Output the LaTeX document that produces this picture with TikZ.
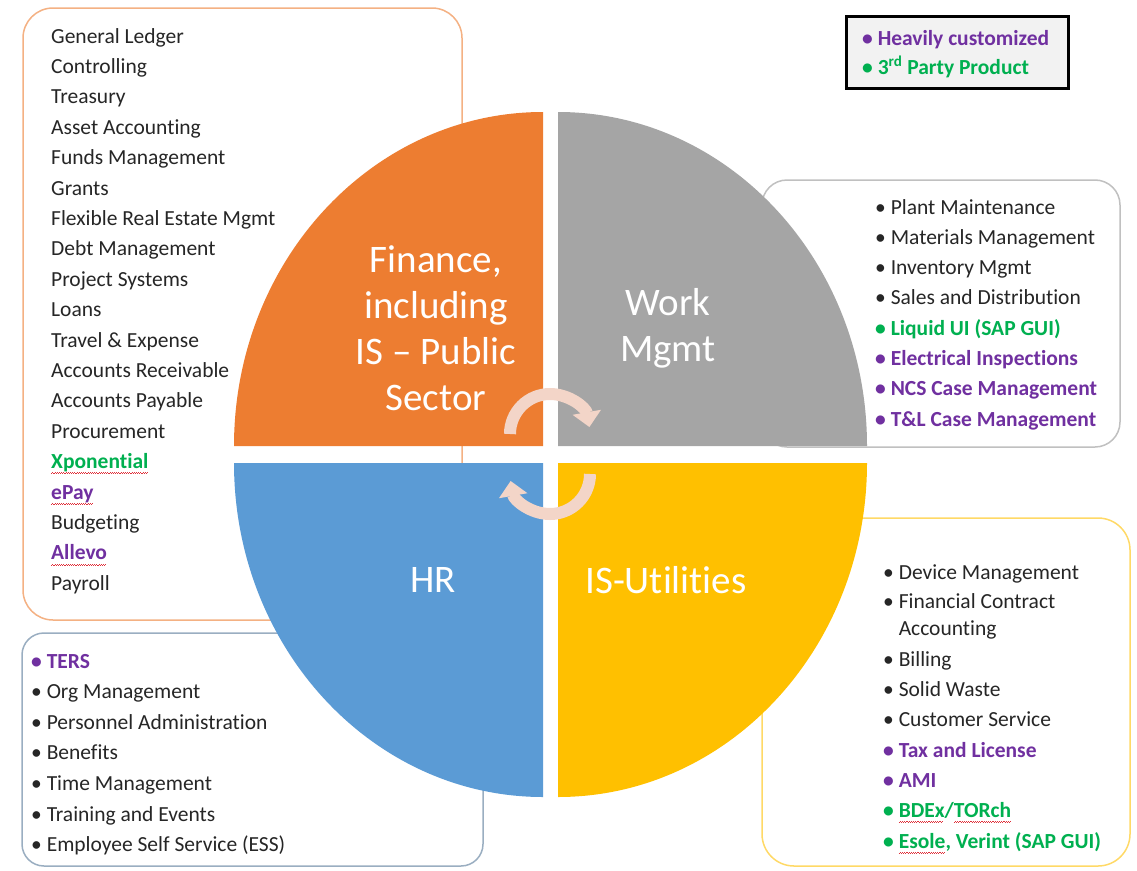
\documentclass[tikz,border=0pt]{standalone}
\usepackage{fontspec}
\setmainfont[Ligatures=NoCommon]{Carlito}
\usepackage{tikz}
\usetikzlibrary{arrows.meta}
\definecolor{finorange}{HTML}{ED7D31}
\definecolor{wmgray}{HTML}{A5A5A5}
\definecolor{hrblue}{HTML}{5B9BD5}
\definecolor{utilyellow}{HTML}{FFC000}
\definecolor{custpurple}{HTML}{7030A0}
\definecolor{thirdgreen}{HTML}{00B050}
\definecolor{textdark}{HTML}{262626}
\definecolor{cyclepeach}{HTML}{F3D5C8}
\definecolor{spellred}{HTML}{E0303A}
\newcommand{\itemfont}{\fontsize{21.5}{26}\selectfont}
\newlength{\spellwd}
\newcommand{\spellmark}[1]{\settowidth{\spellwd}{#1}\rlap{\textcolor{spellred}{\leaders\hbox{\rule[-5.6pt]{1.1pt}{0.9pt}\rule[-4.7pt]{1.1pt}{0.9pt}}\hskip\spellwd}}#1}

\begin{document}
\begin{tikzpicture}[
    x=1pt, y=-1pt,
    listbox/.style={draw, line width=1.5pt, fill=white},
    item/.style={anchor=base west, inner sep=0pt, font=\itemfont, text=textdark},
    stditem/.style={},
    heavycust/.style={text=custpurple, font=\itemfont\bfseries},
    thirdparty/.style={text=thirdgreen, font=\itemfont\bfseries},
    bigtitle/.style={text=white, align=center, font=\fontsize{39}{46}\selectfont},
    cyclearrow/.style={draw=cyclepeach, line width=12pt, -{Triangle[width=28pt, length=15pt]}}
]
\useasboundingbox (0,0) rectangle (1137,870);

% Boxes behind the circle
\draw[listbox, draw=finorange!60, rounded corners=30pt] (23,8) rectangle (462,620);
\draw[listbox, draw=hrblue!45!gray!70, rounded corners=22pt] (22,633) rectangle (483,866);
\draw[listbox, draw=wmgray!70, rounded corners=25pt] (762,180) rectangle (1120,447);
\draw[listbox, draw=utilyellow!60, rounded corners=32pt] (762,518) rectangle (1130,866);
\draw[fill=black!5, line width=3pt] (846,16) rectangle (1068,88);

% Quadrants
\fill[finorange] (543,446) -- (234,446) arc[start angle=180, end angle=90, x radius=309pt, y radius=334pt] -- cycle;
\fill[wmgray] (558,446) -- (558,112) arc[start angle=90, end angle=0, x radius=309pt, y radius=334pt] -- cycle;
\fill[hrblue] (543,463) -- (543,797) arc[start angle=270, end angle=180, x radius=309pt, y radius=334pt] -- cycle;
\fill[utilyellow] (558,463) -- (867,463) arc[start angle=0, end angle=-90, x radius=309pt, y radius=334pt] -- cycle;

% Cycle arrows
\draw[cyclearrow] (510,434) arc[start angle=180, end angle=10, radius=40pt];
\draw[cyclearrow] (590,474) arc[start angle=0, end angle=-170, radius=40pt];

% Quadrant titles
\node[bigtitle] (fintitle) at (436,328) {Finance,\\including\\IS -- Public\\Sector};
\node[bigtitle] (wmtitle) at (668,328) {Work\\Mgmt};
\node[bigtitle] (hrtitle) at (433,580) {HR};
\node[bigtitle] (utiltitle) at (666,580) {IS-Utilities};

% Legend
\node[item, heavycust] (legcust) at (862,45) {• Heavily customized};
\node[item, thirdparty] (legthird) at (862,74) {• 3\textsuperscript{rd} Party Product};

% Finance list
\foreach \txt/\sty [count=\i] in {General Ledger/stditem, Controlling/stditem, Treasury/stditem,
    Asset Accounting/stditem, Funds Management/stditem, Grants/stditem,
    Flexible Real Estate Mgmt/stditem, Debt Management/stditem, Project Systems/stditem,
    Loans/stditem, Travel \& Expense/stditem, Accounts Receivable/stditem,
    Accounts Payable/stditem, Procurement/stditem, \spellmark{Xponential}/thirdparty,
    \spellmark{ePay}/heavycust, Budgeting/stditem, \spellmark{Allevo}/heavycust, Payroll/stditem}
  \node[item, \sty] (fin\i) at (51, {43+30.4*(\i-1)}) {\txt};

% Work Mgmt list
\foreach \txt/\sty [count=\i] in {• Plant Maintenance/stditem, • Materials Management/stditem,
    • Inventory Mgmt/stditem, • Sales and Distribution/stditem, • Liquid UI (SAP GUI)/thirdparty,
    • Electrical Inspections/heavycust, • NCS Case Management/heavycust,
    • T\&L Case Management/heavycust}
  \node[item, \sty] (wm\i) at (875, {214+30.3*(\i-1)}) {\txt};

% IS-Utilities list
\foreach \y/\txt/\sty [count=\i] in {579/• Device Management/stditem, 608/• Financial Contract/stditem,
    635/\phantom{• }Accounting/stditem, 666/• Billing/stditem, 696/• Solid Waste/stditem,
    726/• Customer Service/stditem, 757/• Tax and License/heavycust, 787/• AMI/heavycust,
    817/{• \spellmark{BDEx}/\spellmark{TORch}}/thirdparty,
    848/{• \spellmark{Esole}, Verint (SAP GUI)}/thirdparty}
  \node[item, \sty] (util\i) at (883, \y) {\txt};

% HR list
\foreach \txt/\sty [count=\i] in {• TERS/heavycust, • Org Management/stditem,
    • Personnel Administration/stditem, • Benefits/stditem, • Time Management/stditem,
    • Training and Events/stditem, • Employee Self Service (ESS)/stditem}
  \node[item, \sty] (hr\i) at (31, {668+30.6*(\i-1)}) {\txt};
\end{tikzpicture}
\end{document}
